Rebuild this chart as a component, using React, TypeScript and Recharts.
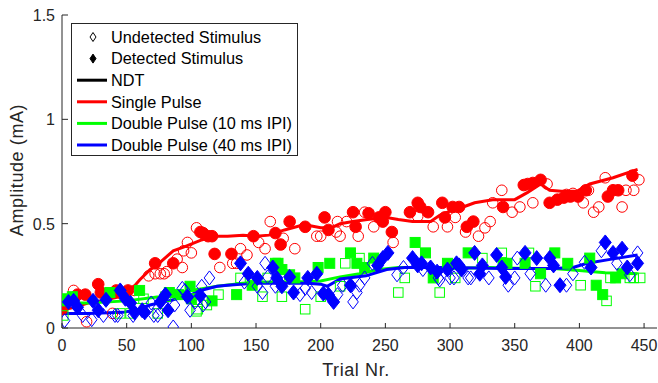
import { ComposedChart, XAxis, YAxis, Scatter, Line } from "recharts";

// trial number, amplitude (mA)
const singleDetected = [
  [0, 0.09], [12, 0.16], [18, 0.16], [28, 0.21], [30, 0.17], [42, 0.18], [45, 0.17], [51, 0.18],
  [72, 0.31], [86, 0.31], [107, 0.46], [109, 0.455], [113, 0.44], [116, 0.44], [118, 0.355],
  [131, 0.355], [148, 0.44], [165, 0.455], [169, 0.4], [176, 0.51], [188, 0.485], [203, 0.53],
  [206, 0.47], [225, 0.555], [227, 0.485], [237, 0.55], [245, 0.53], [248, 0.51], [250, 0.555],
  [255, 0.46], [269, 0.555], [275, 0.6], [277, 0.58], [283, 0.555], [294, 0.6], [296, 0.53],
  [302, 0.58], [307, 0.58], [313, 0.485], [318, 0.51], [341, 0.58], [357, 0.685], [360, 0.69],
  [364, 0.695], [370, 0.71], [377, 0.6], [383, 0.615], [388, 0.625], [393, 0.63], [399, 0.63],
  [405, 0.66], [422, 0.63], [426, 0.66], [430, 0.66], [441, 0.73],
];
const singleUndetected = [
  [9, 0.18], [19, 0.03], [39, 0.07], [56, 0.18], [67, 0.25], [72, 0.26], [76, 0.26], [79, 0.26],
  [81, 0.27], [89, 0.33], [93, 0.29], [94, 0.37], [97, 0.41], [100, 0.36], [104, 0.48], [122, 0.29],
  [132, 0.31], [135, 0.31], [138, 0.38], [143, 0.35], [152, 0.41], [157, 0.38], [161, 0.51],
  [171, 0.43], [180, 0.38], [197, 0.44], [200, 0.44], [212, 0.46], [213, 0.51], [215, 0.44],
  [220, 0.51], [229, 0.44], [234, 0.555], [241, 0.485], [256, 0.41], [275, 0.535], [287, 0.485],
  [298, 0.485], [304, 0.53], [312, 0.46], [322, 0.44], [327, 0.48], [331, 0.51], [333, 0.6],
  [340, 0.66], [348, 0.555], [354, 0.58], [364, 0.6], [375, 0.69], [390, 0.64], [395, 0.645],
  [403, 0.6], [407, 0.66], [411, 0.555], [415, 0.58], [420, 0.72], [433, 0.58], [436, 0.66],
  [442, 0.66], [446, 0.71],
];
const dp10Detected = [
  [1, 0.13], [2, 0.14], [8, 0.15], [37, 0.17], [60, 0.18], [83, 0.17], [90, 0.16], [99, 0.2],
  [100, 0.14], [116, 0.13], [135, 0.16], [147, 0.205], [165, 0.31], [167, 0.31], [170, 0.28],
  [176, 0.255], [180, 0.24], [198, 0.29], [207, 0.31], [223, 0.36], [228, 0.31], [234, 0.29],
  [241, 0.335], [273, 0.41], [281, 0.36], [287, 0.24], [298, 0.31], [314, 0.36], [341, 0.31],
  [344, 0.31], [358, 0.31], [370, 0.26], [381, 0.36], [391, 0.31], [408, 0.335], [413, 0.205],
  [418, 0.16], [428, 0.24], [433, 0.26],
];
const dp10Undetected = [
  [1, 0.06], [45, 0.07], [53, 0.07], [59, 0.095], [63, 0.14], [74, 0.07], [80, 0.15], [104, 0.08],
  [105, 0.09], [112, 0.11], [121, 0.16], [138, 0.24], [155, 0.15], [159, 0.24], [170, 0.15],
  [188, 0.09], [200, 0.15], [215, 0.2], [219, 0.31], [230, 0.335], [260, 0.17], [265, 0.24],
  [292, 0.17], [304, 0.24], [325, 0.335], [340, 0.36], [361, 0.36], [366, 0.2], [401, 0.205],
  [421, 0.13], [424, 0.24], [439, 0.24], [442, 0.24], [447, 0.24],
];
const dp40Detected = [
  [5, 0.125], [9, 0.13], [12, 0.1], [24, 0.13], [28, 0.085], [34, 0.135], [45, 0.18], [49, 0.14],
  [53, 0.12], [56, 0.075], [62, 0.085], [64, 0.075], [76, 0.125], [80, 0.16], [82, 0.085],
  [97, 0.15], [107, 0.155], [138, 0.31], [144, 0.26], [151, 0.24], [163, 0.29], [166, 0.24],
  [170, 0.2], [176, 0.245], [179, 0.17], [190, 0.24], [197, 0.26], [202, 0.165], [206, 0.16],
  [210, 0.125], [223, 0.205], [244, 0.3], [248, 0.335], [252, 0.36], [271, 0.335], [275, 0.3],
  [278, 0.31], [285, 0.29], [290, 0.27], [298, 0.28], [305, 0.31], [307, 0.3], [309, 0.28],
  [319, 0.36], [323, 0.26], [325, 0.3], [336, 0.35], [340, 0.29], [343, 0.245], [358, 0.36],
  [367, 0.335], [377, 0.335], [380, 0.3], [385, 0.205], [409, 0.29], [420, 0.41], [426, 0.36],
  [433, 0.38], [437, 0.29], [445, 0.31],
];
const dp40Undetected = [
  [2, 0.035], [16, 0.06], [23, 0.04], [32, 0.06], [41, 0.06], [43, 0.06], [55, 0.06], [69, 0.12],
  [71, 0.06], [74, 0.06], [86, 0.005], [87, 0.11], [93, 0.19], [95, 0.18], [99, 0.085],
  [103, 0.125], [108, 0.2], [109, 0.11], [111, 0.125], [114, 0.24], [141, 0.22], [151, 0.2],
  [155, 0.17], [157, 0.31], [159, 0.245], [165, 0.2], [184, 0.16], [188, 0.19], [193, 0.17],
  [213, 0.16], [217, 0.205], [225, 0.125], [228, 0.17], [230, 0.205], [234, 0.24], [240, 0.31],
  [259, 0.255], [264, 0.29], [279, 0.28], [291, 0.24], [292, 0.23], [300, 0.24], [303, 0.24],
  [314, 0.24], [316, 0.24], [330, 0.24], [345, 0.205], [350, 0.24], [352, 0.335], [362, 0.26],
  [374, 0.205], [390, 0.205], [395, 0.26], [404, 0.315], [417, 0.37], [429, 0.31], [439, 0.255],
  [445, 0.36],
];

// threshold estimates
const singleLine = [
  [0, 0.085], [10, 0.1], [20, 0.12], [30, 0.13], [45, 0.15], [53, 0.18], [60, 0.23], [68, 0.28],
  [75, 0.31], [86, 0.37], [95, 0.39], [107, 0.42], [118, 0.44], [128, 0.44], [140, 0.445],
  [150, 0.44], [160, 0.445], [172, 0.47], [184, 0.49], [192, 0.49], [200, 0.48], [208, 0.48],
  [215, 0.5], [225, 0.51], [236, 0.52], [251, 0.53], [260, 0.52], [271, 0.51], [285, 0.51],
  [292, 0.54], [300, 0.56], [308, 0.575], [319, 0.6], [333, 0.615], [350, 0.615], [360, 0.65],
  [370, 0.69], [377, 0.66], [386, 0.655], [398, 0.655], [408, 0.69], [426, 0.72], [445, 0.76],
];
const dp10Line = [
  [0, 0.12], [20, 0.12], [50, 0.13], [75, 0.15], [100, 0.18], [120, 0.2], [140, 0.215],
  [160, 0.22], [180, 0.22], [200, 0.225], [215, 0.245], [230, 0.26], [245, 0.28], [260, 0.29],
  [280, 0.29], [300, 0.285], [330, 0.29], [360, 0.285], [380, 0.285], [400, 0.275], [420, 0.265],
  [445, 0.26],
];
const dp40Line = [
  [0, 0.07], [20, 0.07], [47, 0.075], [60, 0.09], [68, 0.11], [86, 0.135], [100, 0.16],
  [107, 0.18], [120, 0.2], [128, 0.205], [148, 0.215], [170, 0.215], [190, 0.215], [200, 0.21],
  [205, 0.2], [215, 0.235], [235, 0.25], [251, 0.28], [265, 0.29], [300, 0.29], [340, 0.285],
  [380, 0.285], [395, 0.29], [406, 0.31], [425, 0.33], [445, 0.35],
];

const xTicks = [0, 50, 100, 150, 200, 250, 300, 350, 400, 450];
const yTicks = [0, 0.5, 1, 1.5];
const legendItems = ["Undetected Stimulus", "Detected Stimulus", "NDT", "Single Pulse", "Double Pulse (10 ms IPI)", "Double Pulse (40 ms IPI)"];

const RED = "#ff0000";
const GREEN = "#00ff00";
const BLUE = "#0000ff";
const AXIS = "#262626";
const FONT = "'Liberation Sans', Arial, Helvetica, sans-serif";

const pts = (arr: number[][]) => arr.map(([t, a]) => ({ t, a }));

const circle = (color: string, filled: boolean) => (p: any) => (
  <circle cx={p.cx} cy={p.cy} r={filled ? 5.8 : 5.3} fill={filled ? color : "none"} stroke={color} strokeWidth={1} />
);
const square = (color: string, filled: boolean) => {
  const s = filled ? 10 : 9.5;
  return (p: any) => (
    <rect x={p.cx - s / 2} y={p.cy - s / 2} width={s} height={s} fill={filled ? color : "none"} stroke={color} strokeWidth={1} />
  );
};
const diamond = (color: string, filled: boolean) => (p: any) => {
  const w = filled ? 6 : 5.3;
  const h = filled ? 7.5 : 7;
  return (
    <polygon
      points={`${p.cx},${p.cy - h} ${p.cx + w},${p.cy} ${p.cx},${p.cy + h} ${p.cx - w},${p.cy}`}
      fill={filled ? color : "none"}
      stroke={color}
      strokeWidth={1}
    />
  );
};

const XTick = ({ x, y, payload }: any) => (
  <g>
    <line x1={x} y1={y} x2={x} y2={y - 5} stroke={AXIS} />
    <text x={x} y={y + 23} textAnchor="middle" fontSize={16} fill={AXIS} fontFamily={FONT}>
      {payload.value}
    </text>
  </g>
);
const YTick = ({ x, y, payload }: any) => (
  <g>
    <line x1={x} y1={y} x2={x + 6} y2={y} stroke={AXIS} />
    <text x={x - 7} y={y + 6} textAnchor="end" fontSize={16} fill={AXIS} fontFamily={FONT}>
      {String(payload.value)}
    </text>
  </g>
);

function LegendBox() {
  const rowY = (i: number) => 37 + i * 21.6;
  const lineColors = ["#000000", RED, GREEN, BLUE];
  return (
    <g fontFamily={FONT} fontSize={16.3}>
      <rect x={71.5} y={23.5} width={226} height={132} fill="#fff" stroke={AXIS} strokeWidth={1} />
      <polygon points={`93,${rowY(0) - 4.5} 96,${rowY(0)} 93,${rowY(0) + 4.5} 90,${rowY(0)}`} fill="none" stroke="#000" />
      <polygon points={`93,${rowY(1) - 4.5} 96,${rowY(1)} 93,${rowY(1) + 4.5} 90,${rowY(1)}`} fill="#000" stroke="#000" />
      {lineColors.map((c, i) => (
        <line key={c} x1={77} x2={107} y1={rowY(i + 2)} y2={rowY(i + 2)} stroke={c} strokeWidth={3} />
      ))}
      {legendItems.map((s, i) => (
        <text key={s} x={111} y={rowY(i) + 5.7} fill="#000">
          {s}
        </text>
      ))}
    </g>
  );
}

export default function App() {
  return (
    <div style={{ position: "absolute", left: 0, top: 0, width: 658, height: 383, background: "#fff" }}>
      <ComposedChart width={658} height={383} margin={{ top: 15, right: 1, bottom: 0, left: 0 }}>
        <XAxis
          dataKey="t"
          type="number"
          domain={[0, 460]}
          ticks={xTicks}
          height={55}
          tickSize={0}
          tickMargin={0}
          tick={<XTick />}
          axisLine={{ stroke: AXIS }}
          tickLine={false}
          allowDataOverflow
        />
        <YAxis
          dataKey="a"
          type="number"
          domain={[0, 1.5]}
          ticks={yTicks}
          width={62}
          tickSize={0}
          tickMargin={0}
          tick={<YTick />}
          axisLine={{ stroke: AXIS }}
          tickLine={false}
          allowDataOverflow
        />
        <Scatter data={pts(singleUndetected)} dataKey="a" shape={circle(RED, false)} isAnimationActive={false} />
        <Scatter data={pts(singleDetected)} dataKey="a" shape={circle(RED, true)} isAnimationActive={false} />
        <Line data={pts(singleLine)} dataKey="a" stroke={RED} strokeWidth={3} dot={false} type="linear" isAnimationActive={false} />
        <Scatter data={pts(dp10Undetected)} dataKey="a" shape={square(GREEN, false)} isAnimationActive={false} />
        <Scatter data={pts(dp10Detected)} dataKey="a" shape={square(GREEN, true)} isAnimationActive={false} />
        <Line data={pts(dp10Line)} dataKey="a" stroke={GREEN} strokeWidth={3} dot={false} type="linear" isAnimationActive={false} />
        <Scatter data={pts(dp40Undetected)} dataKey="a" shape={diamond(BLUE, false)} isAnimationActive={false} />
        <Scatter data={pts(dp40Detected)} dataKey="a" shape={diamond(BLUE, true)} isAnimationActive={false} />
        <Line data={pts(dp40Line)} dataKey="a" stroke={BLUE} strokeWidth={3} dot={false} type="linear" isAnimationActive={false} />
      </ComposedChart>
      <svg width={658} height={383} style={{ position: "absolute", left: 0, top: 0, pointerEvents: "none" }}>
        <text transform="translate(23,170) rotate(-90)" textAnchor="middle" fontSize={18} letterSpacing={0.6} fill={AXIS} fontFamily={FONT}>
          Amplitude (mA)
        </text>
        <text x={356} y={376} textAnchor="middle" fontSize={18} letterSpacing={0.6} fill={AXIS} fontFamily={FONT}>
          Trial Nr.
        </text>
        <LegendBox />
      </svg>
    </div>
  );
}
